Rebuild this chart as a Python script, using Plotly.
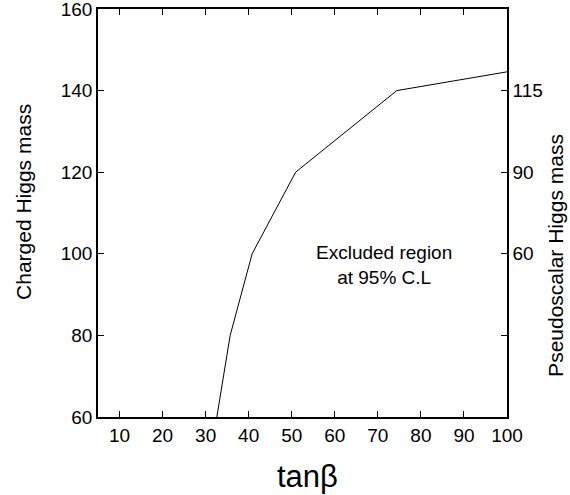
import plotly.graph_objects as go

# Data
tanb = [32.6, 35.7, 40.8, 50.9, 74.4, 100.0]
mh_charged = [60, 80, 100, 120, 140, 144.6]

x_ticks = [10, 20, 30, 40, 50, 60, 70, 80, 90, 100]
y_ticks = [60, 80, 100, 120, 140, 160]
y2_tickvals = [80, 100, 120, 140]
y2_ticktext = ["", "60", "90", "115"]

font_family = "Liberation Sans, Arial, Helvetica, sans-serif"

fig = go.Figure()
fig.add_trace(go.Scatter(x=tanb, y=mh_charged, mode="lines",
                         line=dict(color="black", width=1), showlegend=False))
# invisible trace to activate y2
fig.add_trace(go.Scatter(x=[tanb[0]], y=[mh_charged[0]], yaxis="y2", mode="markers",
                         marker=dict(opacity=0), showlegend=False, hoverinfo="skip"))

axis_common = dict(ticks="inside", ticklen=6, tickcolor="black", showline=True,
                   linecolor="black", linewidth=1.5, showgrid=False, zeroline=False,
                   automargin=False, ticklabeloverflow="allow", tickfont=dict(size=19))

fig.update_layout(
    width=570, height=495,
    margin=dict(l=98, r=63, t=9, b=78),
    paper_bgcolor="white", plot_bgcolor="white",
    font=dict(family=font_family, color="black", size=19),
    xaxis=dict(range=[5, 100], tickvals=x_ticks, mirror="ticks", **axis_common),
    yaxis=dict(range=[60, 160], tickvals=y_ticks, **axis_common),
    yaxis2=dict(range=[60, 160], overlaying="y", side="right", tickvals=y2_tickvals,
                ticktext=y2_ticktext, **axis_common),
    annotations=[
        dict(text="Charged Higgs mass", xref="paper", yref="paper", x=-0.181, y=0.527,
             textangle=-90, showarrow=False, font=dict(size=21), xanchor="center", yanchor="middle"),
        dict(text="Pseudoscalar Higgs mass", xref="paper", yref="paper", x=1.117, y=0.397,
             textangle=-90, showarrow=False, font=dict(size=21), xanchor="center", yanchor="middle"),
        dict(text="tanβ", xref="paper", yref="paper", x=0.513, y=-0.145,
             showarrow=False, font=dict(size=31), xanchor="center", yanchor="middle"),
        dict(text="Excluded region<br>at 95% C.L", xref="x", yref="y", x=71.5, y=97.2,
             showarrow=False, font=dict(size=19), xanchor="center", yanchor="middle"),
    ],
)

fig.write_html("out.html", config={"displayModeBar": False},
               post_script="document.body.style.margin='0';")
